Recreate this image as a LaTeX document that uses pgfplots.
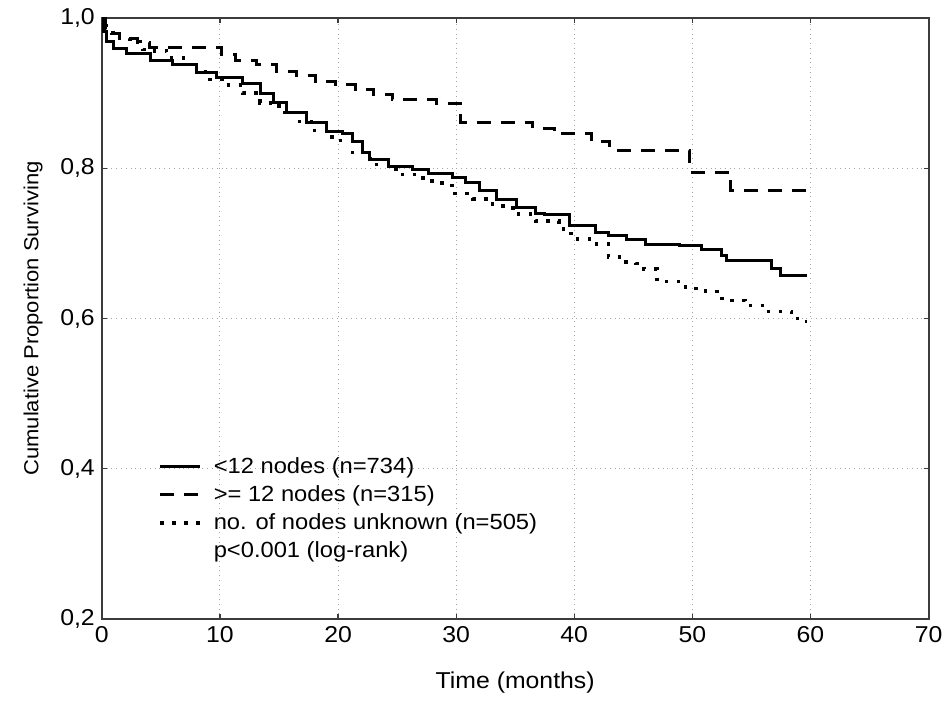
\documentclass[border=0pt]{standalone}
\usepackage{fontspec}
\setmainfont{Liberation Sans}[FakeStretch=1.08]
\usepackage{pgfplots}
\pgfplotsset{compat=1.18}

% Kaplan-Meier steps
\pgfplotstableread{
t    s
0    1.000
0.1  0.982
0.4  0.969
0.95 0.960
2.1  0.953
4.1  0.944
6.0  0.938
8.0  0.927
9.7  0.921
11.9 0.913
13.4 0.900
14.5 0.887
15.6 0.874
17.3 0.861
19.0 0.849
20.4 0.846
21.2 0.836
22.1 0.821
22.7 0.811
24.3 0.803
26.3 0.798
27.7 0.793
29.7 0.788
30.8 0.781
32.0 0.770
33.4 0.759
35.1 0.748
36.7 0.740
37.5 0.738
39.6 0.724
41.8 0.715
42.9 0.710
44.4 0.705
46.0 0.699
48.9 0.697
50.8 0.692
52.5 0.684
52.9 0.677
56.7 0.666
57.5 0.657
59.7 0.657
}\lowtab

\pgfplotstableread{
t    s
0    1.000
0.3  0.990
0.8  0.980
1.5  0.973
3.0  0.967
4.0  0.961
10.1 0.951
11.3 0.944
13.1 0.938
14.8 0.929
16.5 0.923
18.1 0.916
19.8 0.911
21.5 0.905
23.0 0.898
24.6 0.891
28.3 0.886
30.4 0.861
36.5 0.853
38.3 0.846
41.5 0.835
43.0 0.824
49.8 0.795
53.2 0.770
59.7 0.770
}\hightab

\pgfplotstableread{
t    s
0    1.000
0.3  0.985
0.95 0.973
2.4  0.969
3.5  0.958
4.3  0.956
5.5  0.947
6.9  0.938
8.0  0.928
9.1  0.918
10.2 0.911
11.9 0.900
13.4 0.887
15.0 0.874
16.5 0.862
18.0 0.850
19.5 0.837
21.2 0.821
22.7 0.805
24.9 0.792
27.2 0.783
28.8 0.777
29.7 0.766
31.4 0.759
33.1 0.750
34.8 0.739
36.7 0.730
38.7 0.722
39.1 0.713
40.0 0.706
41.5 0.699
42.9 0.682
44.1 0.675
45.2 0.673
45.9 0.666
47.0 0.649
49.0 0.642
50.0 0.640
51.1 0.636
52.5 0.624
54.5 0.617
56.2 0.609
58.4 0.600
59.4 0.596
59.7 0.596
}\unktab

\definecolor{gridgray}{RGB}{165,165,165}
\definecolor{framegray}{RGB}{60,60,60}

\begin{document}
\begin{tikzpicture}
\begin{axis}[
    scale only axis,
    width=414pt, height=301pt,
    xmin=0, xmax=70, ymin=0.2, ymax=1.0,
    xtick={0,10,...,70},
    ytick={0.2,0.4,0.6,0.8,1.0},
    tick align=inside,
    major tick length=2.5pt,
    tick style={framegray, line width=0.6pt},
    axis line style={framegray, line width=1pt},
    grid=major,
    major grid style={gridgray, dotted, line width=0.5pt},
    /pgf/number format/assume math mode=true,
    ticklabel style={font=\fontsize{11.5}{13}\selectfont},
    yticklabel style={/pgf/number format/.cd, fixed, fixed zerofill, precision=1, use comma},
    xlabel={Time (months)},
    ylabel={Cumulative Proportion Surviving},
    xlabel style={font=\fontsize{11.5}{13}\selectfont, yshift=-8pt},
    ylabel style={font=\fontsize{10.2}{12}\selectfont, yshift=2pt},
    legend style={at={(rel axis cs:0.068,0.273)}, anchor=north west,
        draw=none, fill=none, inner sep=0pt,
        font=\fontsize{11}{13}\selectfont,
        row sep=2.6pt, column sep=5pt,
        nodes={inner sep=1pt, anchor=west}},
    legend cell align=left,
    legend image code/.code={\draw[#1] (0pt,0pt) -- (20pt,0pt);},
]
\addplot[const plot, black, line width=1.5pt] table[x=t, y=s] {\lowtab};
\addlegendentry{<12 nodes (n=734)}
\addplot[const plot, black, line width=1.5pt, dash pattern=on 7pt off 5pt] table[x=t, y=s] {\hightab};
\addlegendentry{>= 12 nodes (n=315)}
\addplot[const plot, black, line width=1.7pt, dash pattern=on 1.8pt off 4.2pt] table[x=t, y=s] {\unktab};
\addlegendentry{no. of nodes unknown (n=505)}
\addlegendimage{empty legend}
\addlegendentry{p<0.001 (log-rank)}
\coordinate (bl) at (rel axis cs:0,0);
\end{axis}
\path (bl) ++(-51pt,-38.5pt) rectangle ++(474.5pt,348.5pt);
\end{tikzpicture}
\end{document}
